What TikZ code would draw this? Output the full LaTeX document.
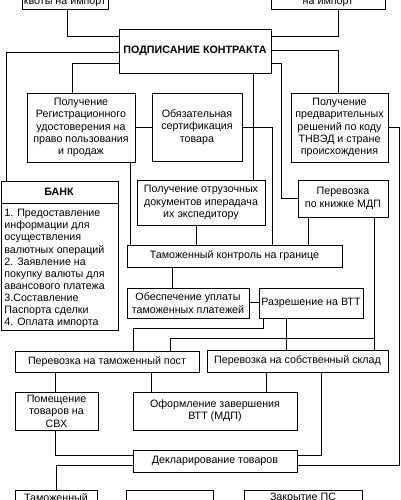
\documentclass[tikz,border=0pt]{standalone}
\usepackage{fontspec}
\setmainfont{Liberation Sans}
\begin{document}
\begin{tikzpicture}[x=1pt,y=-1pt,line width=0.8pt,
  box/.style={draw,inner sep=0pt,align=center,font=\fontsize{10.7}{12.4}\selectfont},
  txt/.style={inner sep=0pt,font=\fontsize{10.7}{12.1}\selectfont}]
\useasboundingbox (0,0) rectangle (400,500);
\clip (0,0) rectangle (400,500);
% top boxes (cut off)
\node[box,anchor=south,minimum width=86,inner ysep=3pt] (kvoty) at (65,10) {квоты на импорт};
\node[box,anchor=south,minimum width=114,inner ysep=3pt] (topr) at (328,10) {на импорт};
\node[box,minimum width=152,minimum height=44] (contract) at (195,51) {\bfseries ПОДПИСАНИЕ КОНТРАКТА};
\node[box,minimum width=108,minimum height=69] (reg) at (81,127.5) {Получение\\Регистрационного\\удостоверения на\\право пользования\\и продаж};
\node[box,minimum width=90,minimum height=68] (cert) at (197,127) {Обязательная\\сертификация\\товара};
\node[box,minimum width=97,minimum height=69] (prelim) at (339.5,127.5) {Получение\\предварительных\\решений по коду\\ТНВЭД и стране\\происхождения};
% bank
\node[draw,inner sep=0pt,minimum width=117.5,minimum height=149,anchor=north west] (bank) at (0.5,181) {};
\node[txt,font=\fontsize{10.7}{12.1}\selectfont\bfseries] (bankh) at (59,192) {БАНК};
\draw (bank.west |- 0,203) -- (bank.east |- 0,203);
\node[txt,anchor=north west,align=left] (bankt) at (4,209) {1. Предоставление\\информации для\\осуществления\\валютных операций\\2. Заявление на\\покупку валюты для\\авансового платежа\\3.Составление\\Паспорта сделки\\4. Оплата импорта};
\node[box,minimum width=128,minimum height=45] (otruz) at (201,202.5) {Получение отрузочных\\документов иперадача\\их экспедитору};
\node[box,minimum width=90,minimum height=37] (mdp) at (343,198.5) {Перевозка\\по книжке МДП};
\node[box,minimum width=215,minimum height=22] (tk) at (234.5,256) {Таможенный контроль на границе};
\node[box,minimum width=122,minimum height=30] (obesp) at (188,303) {Обеспечение уплаты\\таможенных платежей};
\node[box,minimum width=104,minimum height=30] (razr) at (311,303) {Разрешение на ВТТ};
\node[box,minimum width=184,minimum height=21] (post) at (107,361.5) {Перевозка на таможенный пост};
\node[box,minimum width=181,minimum height=22] (sklad) at (297.5,361) {Перевозка на собственный склад};
\node[box,minimum width=83,minimum height=38] (pomesh) at (56.5,411) {Помещение\\товаров на\\СВХ};
\node[box,minimum width=164,minimum height=38] (oform) at (215,411) {Оформление завершения\\ВТТ (МДП)};
\node[box,minimum width=164,minimum height=22] (dekl) at (215,461) {Декларирование товаров};
% bottom boxes (cut off)
\node[box,anchor=north,minimum width=82,inner ysep=3pt] (tam) at (56,490) {Таможенный};
\node[box,anchor=north,minimum width=87,minimum height=20] (mid) at (169.5,490) {};
\node[box,anchor=north,minimum width=118,inner ysep=3pt] (zakr) at (303,490) {Закрытие ПС};
\coordinate (j1) at (374,338);
% connectors
\draw (kvoty.south -| 67,0) |- (contract.west |- 0,36);
\draw (topr.south -| 338,0) |- (contract.east |- 0,36);
\draw (contract.west |- 0,52) -| (bank.north -| 6,0);
\draw (contract.west |- 0,63) -| (reg.north -| 72,0);
\draw (contract.east |- 0,50) -| (prelim.north -| 338,0);
\draw (contract.south -| 253,0) -- (otruz.north -| 253,0);
\draw (contract.east |- 0,63) -- ++(10,0) |- (mdp.west |- 0,198);
\draw (reg.east |- 0,127) -- (cert.west |- 0,127);
\draw (cert.east |- 0,127) -| (tk.north -| 272,0);
\draw (reg.south -| 130,0) -- (tk.north -| 130,0);
\draw (prelim.east |- 0,127) -- ++(11,0) |- (dekl.east |- 0,465);
\draw (otruz.south -| 196,0) -- (tk.north -| 196,0);
\draw (mdp.south -| 308,0) -- (tk.north -| 308,0);
\draw (mdp.south -| 374,0) -- (sklad.north -| 374,0);
\draw (post.north -| 170,0) |- (j1);
\draw (razr.south -| 263,0) -- ++(0,10) -| (post.north -| 133,0);
\draw (razr.south -| 286,0) -- (sklad.north -| 286,0);
\draw (tk.south -| 172,0) -- (obesp.north -| 172,0);
\draw (obesp.east |- 0,302) -- (razr.west |- 0,302);
\draw (post.south -| 55,0) -- (pomesh.north -| 55,0);
\draw (post.south -| 151,0) -- (oform.north -| 151,0);
\draw (sklad.south -| 266,0) -- (oform.north -| 266,0);
\draw (sklad.south -| 321,0) |- (dekl.east |- 0,455);
\draw (pomesh.south -| 55,0) |- (dekl.west |- 0,455);
\draw (dekl.west |- 0,465) -| (tam.north -| 56,0);
\end{tikzpicture}
\end{document}
